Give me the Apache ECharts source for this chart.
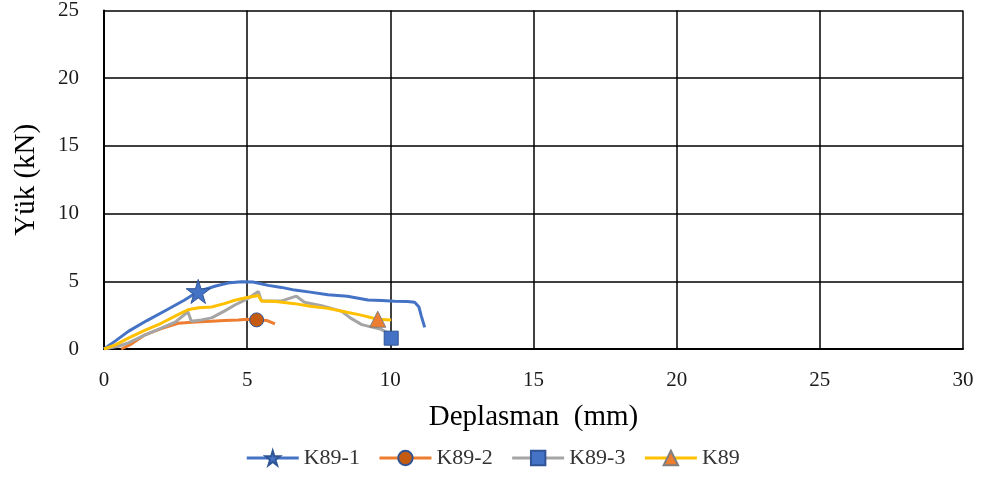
<!DOCTYPE html>
<html>
<head>
<meta charset="utf-8">
<script src="https://cdn.jsdelivr.net/npm/echarts@6/dist/echarts.min.js"></script>
<style>html,body{margin:0;padding:0;background:#fff}#c{width:985px;height:479px}</style>
</head>
<body>
<div id="c"></div>
<script>
const seriesNames = ['K89-1', 'K89-2', 'K89-3', 'K89'];
const xTicks = [0, 5, 10, 15, 20, 25, 30];
const yTicks = [0, 5, 10, 15, 20, 25];

const k891X = [0, 0.4, 0.85, 1.5, 2.2, 2.8, 3.29, 3.9, 4.4, 4.8, 5.2, 5.73, 6.2, 6.66, 7.2, 7.82, 8.5, 9.22, 9.7, 10.15, 10.6, 10.85, 11.0, 11.08, 11.2];
const k891Y = [0, 0.6, 1.3, 2.1, 2.9, 3.6, 4.25, 4.65, 4.9, 4.97, 4.95, 4.7, 4.55, 4.35, 4.2, 4.0, 3.9, 3.62, 3.58, 3.52, 3.5, 3.45, 3.1, 2.45, 1.6];
const k891Mark = 6;

const k892X = [0.6, 0.9, 1.43, 2.0, 2.59, 3.2, 3.76, 4.2, 4.69, 5.0, 5.33, 5.7, 5.97];
const k892Y = [0, 0.3, 1.05, 1.5, 1.9, 2.0, 2.05, 2.1, 2.15, 2.2, 2.15, 2.1, 1.85];
const k892Mark = 10;

const k893X = [0, 0.5, 0.85, 1.4, 2.0, 2.5, 2.93, 3.05, 3.4, 3.76, 4.2, 4.57, 5.0, 5.39, 5.5, 6.2, 6.72, 7.0, 7.6, 8.29, 8.6, 9.0, 9.68, 9.9, 10.03];
const k893Y = [0, 0.2, 0.45, 1.0, 1.55, 2.0, 2.75, 2.05, 2.15, 2.3, 2.8, 3.25, 3.7, 4.25, 3.55, 3.55, 3.9, 3.45, 3.2, 2.8, 2.3, 1.8, 1.45, 1.2, 0.8];
const k893Mark = 24;

const k89X = [0, 0.4, 0.85, 1.4, 2.0, 2.5, 2.93, 3.3, 3.76, 4.2, 4.57, 5.0, 5.39, 5.5, 6.0, 6.66, 7.2, 7.82, 8.4, 8.98, 9.56, 10.03];
const k89Y = [0, 0.3, 0.8, 1.35, 1.9, 2.45, 2.9, 3.05, 3.1, 3.35, 3.6, 3.8, 3.95, 3.55, 3.5, 3.35, 3.15, 3.0, 2.75, 2.5, 2.2, 2.15];
const k89Mark = 20;

function build(xs, ys, mark) {
  return xs.map((x, i) => i === mark ? { value: [x, ys[i]] } : { value: [x, ys[i]], symbol: 'none' });
}

const font = 'Liberation Serif';
const chart = echarts.init(document.getElementById('c'));
const mk = (name, xs, ys, mark, color, symbol, size, sColor, sBorder) => ({
  name, type: 'line', data: build(xs, ys, mark),
  showSymbol: true, symbol, symbolSize: size,
  lineStyle: { color, width: 3 },
  itemStyle: { color: sColor, borderColor: sBorder, borderWidth: 1 },
  color: color,
  emphasis: { disabled: true }, animation: false
});
chart.setOption({
  animation: false,
  grid: { left: 104, right: 22, top: 9, bottom: 130 },
  xAxis: {
    type: 'value', min: 0, max: 30, interval: 5,
    name: 'Deplasman  (mm)', nameLocation: 'middle', nameGap: 54,
    nameTextStyle: { fontFamily: font, fontSize: 29, color: '#000' },
    axisLine: { lineStyle: { color: '#000', width: 2 } },
    axisTick: { show: false },
    axisLabel: { fontFamily: font, fontSize: 21, color: '#1a1a1a', margin: 21 },
    splitLine: { lineStyle: { color: '#000', width: 1.5 } }
  },
  yAxis: {
    type: 'value', min: 0, max: 25, interval: 5,
    name: 'Yük (kN)', nameLocation: 'middle', nameGap: 63, nameRotate: 90,
    nameTextStyle: { fontFamily: font, fontSize: 29, color: '#000' },
    axisLine: { show: true, lineStyle: { color: '#000', width: 2 } },
    axisTick: { show: false },
    axisLabel: { fontFamily: font, fontSize: 21, color: '#1a1a1a', margin: 25 },
    splitLine: { lineStyle: { color: '#000', width: 1.5 } }
  },
  legend: {
    data: seriesNames, bottom: 5, left: 'center', itemWidth: 52, itemHeight: 18, itemGap: 18,
    lineStyle: { width: 3 },
    textStyle: { fontFamily: font, fontSize: 22, color: '#333' }
  },
  series: [
    mk('K89-1', k891X, k891Y, k891Mark, '#4472C4', 'path://M50,0 L61,35 L98,35 L68,57 L79,91 L50,70 L21,91 L32,57 L2,35 L39,35 Z', 24, '#4472C4', '#2F5597'),
    mk('K89-2', k892X, k892Y, k892Mark, '#ED7D31', 'circle', 14, '#C55A11', '#2F5597'),
    mk('K89-3', k893X, k893Y, k893Mark, '#A5A5A5', 'rect', 14, '#4472C4', '#2F5597'),
    mk('K89', k89X, k89Y, k89Mark, '#FFC000', 'triangle', 16, '#ED7D31', '#7F7F7F')
  ]
});
</script>
</body>
</html>
